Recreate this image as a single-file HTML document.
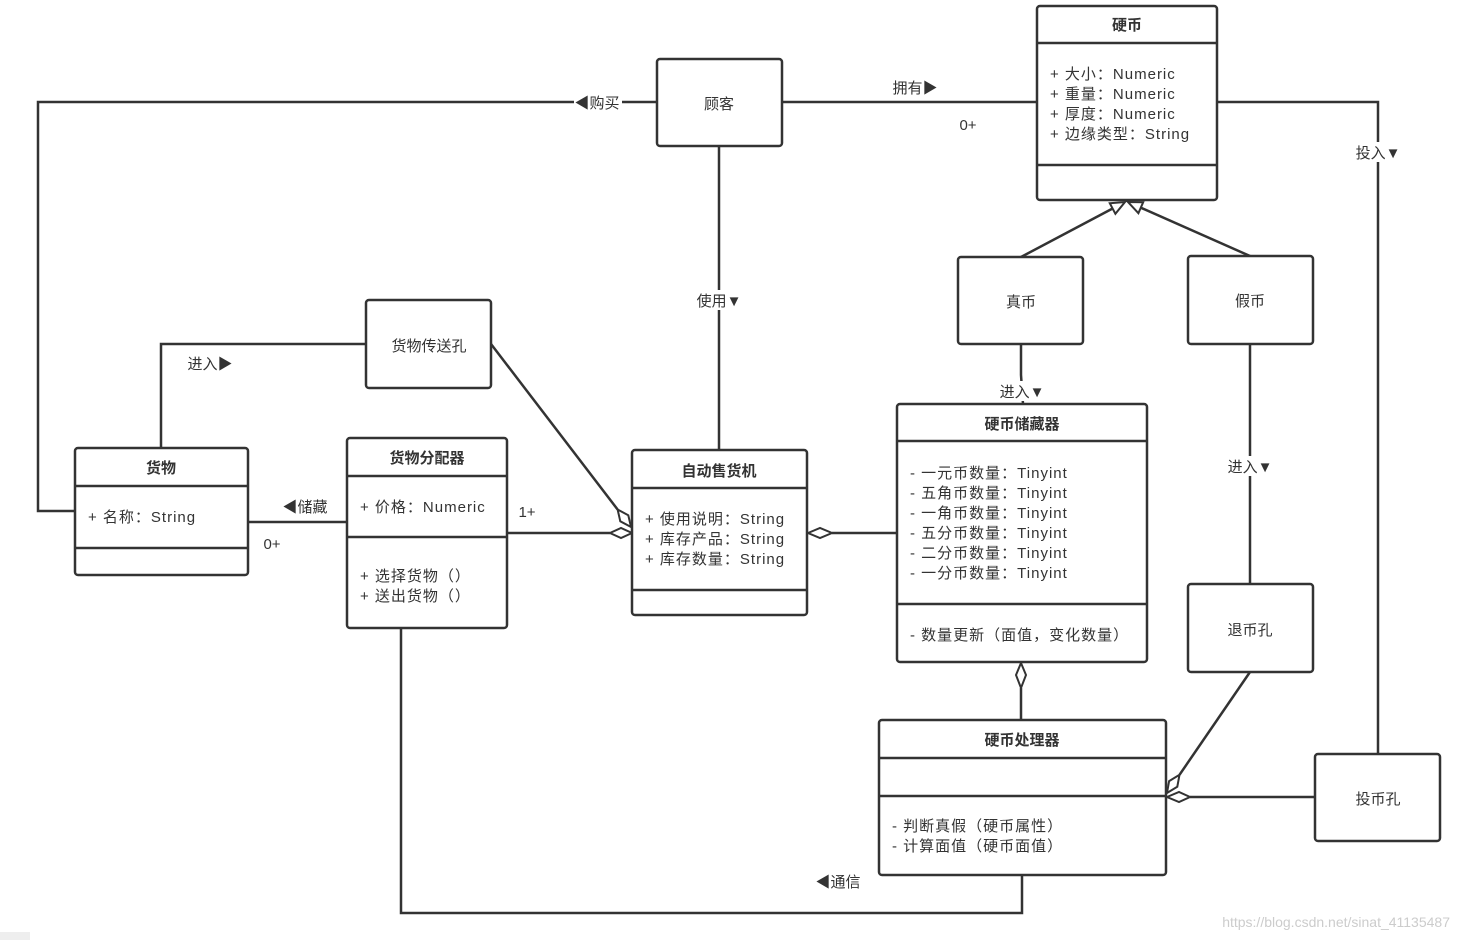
<!DOCTYPE html>
<html><head><meta charset="utf-8"><style>
body{margin:0;background:#fff}
svg{display:block}
text{font-family:"Liberation Sans","Noto Sans CJK SC",sans-serif;font-size:15px;fill:#333}
.b{font-weight:bold}
.a text{letter-spacing:1px}
</style></head><body>
<svg width="1459" height="940" viewBox="0 0 1459 940">
<g fill="none" stroke="#333" stroke-width="2.5">
<polyline points="657,102 38,102 38,511 75,511"/>
<line x1="782" y1="102" x2="1037" y2="102"/>
<polyline points="1217,102 1378,102 1378,754"/>
<line x1="719" y1="146" x2="719" y2="450"/>
<line x1="1021" y1="257" x2="1112.6" y2="208.5"/>
<line x1="1250" y1="256" x2="1140.8" y2="207.7"/>
<polyline points="1021,344 1021,375 1023,404"/>
<line x1="1250" y1="344" x2="1250" y2="584"/>
<polyline points="366,344 161,344 161,448"/>
<line x1="491" y1="344" x2="617.6" y2="509.5"/>
<line x1="248" y1="522" x2="347" y2="522"/>
<line x1="507" y1="533" x2="610" y2="533"/>
<line x1="832" y1="533" x2="897" y2="533"/>
<line x1="1021" y1="688" x2="1021" y2="720"/>
<line x1="1250" y1="672" x2="1179.5" y2="774.8"/>
<line x1="1315" y1="797" x2="1190" y2="797"/>
<polyline points="401,628 401,913 1022,913 1022,875"/>
</g>
<g fill="#fff" stroke="#333" stroke-width="2">
<polygon points="1125,202 1115.4,213.8 1109.8,203.2"/>
<polygon points="1128,202 1143.2,202.2 1138.4,213.2"/>
<polygon points="632,533 621,538 610,533 621,528"/>
<polygon points="808,533 820,528 832,533 820,538"/>
<polygon points="1021,663 1026,675 1021,688 1016,675"/>
<polygon points="631,527 628.3,515.3 617.6,509.5 620.3,521.3"/>
<polygon points="1167,797 1179,792 1190,797 1179,802"/>
<polygon points="1167,793 1169.1,781.1 1179.5,774.8 1177.3,786.7"/>
</g>
<g fill="#fff" stroke="#333" stroke-width="2.5">
<rect x="1037" y="6" width="180" height="194" rx="3"/>
<rect x="657" y="59" width="125" height="87" rx="3"/>
<rect x="958" y="257" width="125" height="87" rx="3"/>
<rect x="1188" y="256" width="125" height="88" rx="3"/>
<rect x="366" y="300" width="125" height="88" rx="3"/>
<rect x="75" y="448" width="173" height="127" rx="3"/>
<rect x="347" y="438" width="160" height="190" rx="3"/>
<rect x="632" y="450" width="175" height="165" rx="3"/>
<rect x="897" y="404" width="250" height="258" rx="3"/>
<rect x="879" y="720" width="287" height="155" rx="3"/>
<rect x="1188" y="584" width="125" height="88" rx="3"/>
<rect x="1315" y="754" width="125" height="87" rx="3"/>
</g>
<g stroke="#333" stroke-width="2.5">
<line x1="1037" y1="43" x2="1217" y2="43"/><line x1="1037" y1="165" x2="1217" y2="165"/>
<line x1="75" y1="486" x2="248" y2="486"/><line x1="75" y1="548" x2="248" y2="548"/>
<line x1="347" y1="476" x2="507" y2="476"/><line x1="347" y1="537" x2="507" y2="537"/>
<line x1="632" y1="488" x2="807" y2="488"/><line x1="632" y1="590" x2="807" y2="590"/>
<line x1="897" y1="441" x2="1147" y2="441"/><line x1="897" y1="604" x2="1147" y2="604"/>
<line x1="879" y1="758" x2="1166" y2="758"/><line x1="879" y1="796" x2="1166" y2="796"/>
</g>
<g fill="#fff"><rect x="574" y="92" width="48" height="20"/><rect x="694" y="290" width="50" height="20"/><rect x="1353" y="142" width="50" height="20"/><rect x="997" y="381" width="52" height="20"/><rect x="1225" y="456" width="52" height="20"/></g>
<g text-anchor="middle">
<text x="1127" y="30" class="b">硬币</text>
<text x="719" y="109">顾客</text>
<text x="1021" y="307">真币</text>
<text x="1250" y="306">假币</text>
<text x="429" y="351">货物传送孔</text>
<text x="161" y="473" class="b">货物</text>
<text x="427" y="463" class="b">货物分配器</text>
<text x="719" y="476" class="b">自动售货机</text>
<text x="1022" y="429" class="b">硬币储藏器</text>
<text x="1022" y="745" class="b">硬币处理器</text>
<text x="1250" y="635">退币孔</text>
<text x="1378" y="804">投币孔</text>
<text x="597" y="108">◀购买</text>
<text x="915" y="93">拥有▶</text>
<text x="968" y="130">0+</text>
<text x="1378" y="158">投入▼</text>
<text x="719" y="306">使用▼</text>
<text x="1022" y="397">进入▼</text>
<text x="1250" y="472">进入▼</text>
<text x="210" y="369">进入▶</text>
<text x="305" y="512">◀储藏</text>
<text x="272" y="549">0+</text>
<text x="527" y="517">1+</text>
<text x="838" y="887">◀通信</text>
</g>
<g class="a" style="font-size:16px">
<text x="1050" y="79">+ 大小：Numeric</text>
<text x="1050" y="99">+ 重量：Numeric</text>
<text x="1050" y="119">+ 厚度：Numeric</text>
<text x="1050" y="139">+ 边缘类型：String</text>
<text x="88" y="522">+ 名称：String</text>
<text x="360" y="512">+ 价格：Numeric</text>
<text x="360" y="581">+ 选择货物（）</text>
<text x="360" y="601">+ 送出货物（）</text>
<text x="645" y="524">+ 使用说明：String</text>
<text x="645" y="544">+ 库存产品：String</text>
<text x="645" y="564">+ 库存数量：String</text>
<text x="910" y="478">- 一元币数量：Tinyint</text>
<text x="910" y="498">- 五角币数量：Tinyint</text>
<text x="910" y="518">- 一角币数量：Tinyint</text>
<text x="910" y="538">- 五分币数量：Tinyint</text>
<text x="910" y="558">- 二分币数量：Tinyint</text>
<text x="910" y="578">- 一分币数量：Tinyint</text>
<text x="910" y="640">- 数量更新（面值，变化数量）</text>
<text x="892" y="831">- 判断真假（硬币属性）</text>
<text x="892" y="851">- 计算面值（硬币面值）</text>
</g>
<text x="1450" y="927" text-anchor="end" style="fill:#ccc;font-size:14px">https://blog.csdn.net/sinat_41135487</text>
<rect x="0" y="932" width="30" height="8" fill="#eee"/>
</svg>
</body></html>
